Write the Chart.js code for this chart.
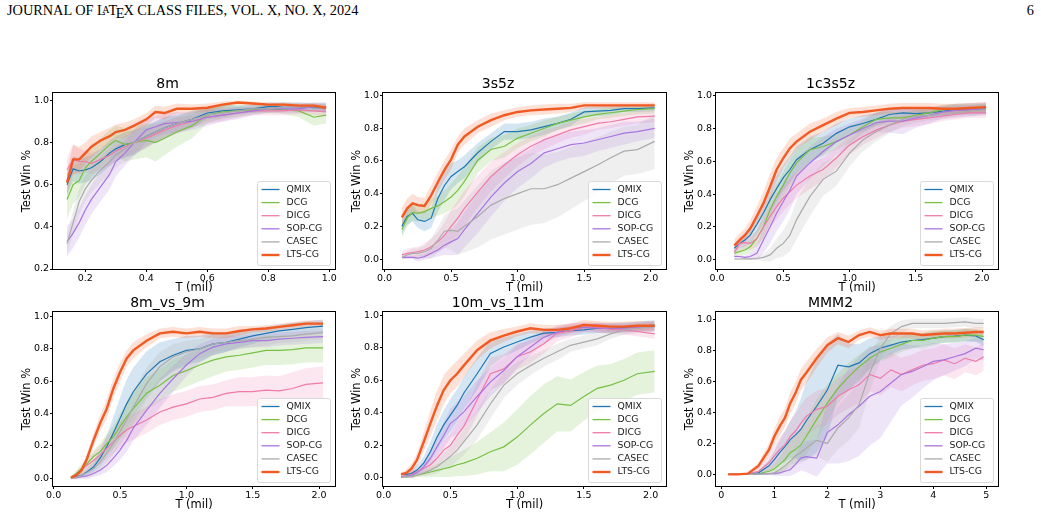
<!DOCTYPE html>
<html>
<head>
<meta charset="utf-8">
<script src="https://cdn.jsdelivr.net/npm/chart.js@4.4.1/dist/chart.umd.min.js"></script>
<style>
    body { margin: 0; background: #fff; }
    #page { position: relative; width: 1041px; height: 517px; overflow: hidden; background: #fff; }
    .hdr { position: absolute; top: 2px; font-family: "Liberation Serif", "Times New Roman", serif; font-size: 14.3px; color: #000; white-space: nowrap; }
    .hdr .a { font-size: 10px; position: relative; top: -2px; margin-left: -3.5px; margin-right: -1px; }
    .hdr .e { position: relative; top: 3px; margin-left: -1.5px; margin-right: -1px; }
    canvas { position: absolute; }
</style>
</head>
<body>
<div id="page">
    <div class="hdr" style="left:7px">JOURNAL OF L<span class="a">A</span>T<span class="e">E</span>X CLASS FILES, VOL. X, NO. X, 2024</div>
    <div class="hdr" style="right:7px">6</div>
</div>
<script>
const SERIES = ['QMIX', 'DCG', 'DICG', 'SOP-CG', 'CASEC', 'LTS-CG'];
const COLORS = ['#1f77b4', '#77c043', '#f07aa8', '#a974e0', '#ababab', '#f25a24'];

const X_TICKS_8M = [0.2, 0.4, 0.6, 0.8, 1.0];
const Y_TICKS_8M = [0.2, 0.4, 0.6, 0.8, 1.0];
const X_TICKS_2M = [0.0, 0.5, 1.0, 1.5, 2.0];
const X_TICKS_MMM2 = [0, 1, 2, 3, 4, 5];
const Y_TICKS = [0.0, 0.2, 0.4, 0.6, 0.8, 1.0];

// training steps (millions)
const X_8M = [0.14, 0.16, 0.18, 0.2, 0.22, 0.25, 0.28, 0.3, 0.33, 0.36, 0.4, 0.43, 0.46, 0.5, 0.55, 0.6, 0.65, 0.7, 0.75, 0.8, 0.85, 0.9, 0.95, 0.99];
const X_2M = [0.13, 0.17, 0.21, 0.25, 0.3, 0.35, 0.4, 0.45, 0.5, 0.55, 0.6, 0.7, 0.8, 0.9, 1.0, 1.1, 1.2, 1.3, 1.4, 1.5, 1.6, 1.7, 1.8, 1.9, 2.03];
const X_MMM2 = [0.13, 0.3, 0.5, 0.7, 0.9, 1.0, 1.1, 1.2, 1.3, 1.4, 1.5, 1.6, 1.8, 2.0, 2.2, 2.4, 2.6, 2.8, 3.0, 3.2, 3.4, 3.6, 3.8, 4.0, 4.2, 4.4, 4.6, 4.8, 4.95];

// 8m
const QMIX_8M = [0.6, 0.675, 0.665, 0.67, 0.68, 0.71, 0.75, 0.77, 0.79, 0.8, 0.83, 0.85, 0.87, 0.89, 0.91, 0.94, 0.95, 0.955, 0.96, 0.97, 0.97, 0.97, 0.965, 0.965];
const DCG_8M = [0.53, 0.6, 0.62, 0.68, 0.71, 0.75, 0.79, 0.81, 0.79, 0.8, 0.81, 0.8, 0.82, 0.85, 0.88, 0.93, 0.945, 0.95, 0.955, 0.96, 0.955, 0.95, 0.92, 0.93];
const DICG_8M = [0.67, 0.72, 0.71, 0.71, 0.7, 0.72, 0.74, 0.76, 0.78, 0.8, 0.82, 0.84, 0.86, 0.88, 0.9, 0.92, 0.93, 0.94, 0.95, 0.95, 0.95, 0.955, 0.95, 0.945];
const SOP_8M = [0.33, 0.37, 0.42, 0.48, 0.53, 0.59, 0.65, 0.71, 0.75, 0.8, 0.86, 0.875, 0.89, 0.895, 0.9, 0.92, 0.93, 0.94, 0.95, 0.96, 0.96, 0.96, 0.97, 0.97];
const CASEC_8M = [0.32, 0.42, 0.52, 0.58, 0.62, 0.67, 0.71, 0.74, 0.77, 0.8, 0.83, 0.85, 0.87, 0.89, 0.91, 0.93, 0.94, 0.95, 0.96, 0.96, 0.97, 0.97, 0.97, 0.97];
const LTS_8M = [0.61, 0.72, 0.72, 0.75, 0.78, 0.81, 0.83, 0.85, 0.86, 0.88, 0.91, 0.945, 0.94, 0.96, 0.96, 0.965, 0.98, 0.99, 0.985, 0.98, 0.98, 0.975, 0.975, 0.965];
const SD_QMIX_8M = [0.05, 0.06, 0.06, 0.06, 0.06, 0.06, 0.06, 0.06, 0.06, 0.06, 0.05, 0.05, 0.05, 0.04, 0.04, 0.03, 0.03, 0.02, 0.02, 0.02, 0.02, 0.02, 0.02, 0.02];
const SD_DCG_8M = [0.09, 0.09, 0.08, 0.08, 0.07, 0.07, 0.07, 0.07, 0.08, 0.08, 0.08, 0.09, 0.08, 0.07, 0.06, 0.04, 0.03, 0.03, 0.02, 0.02, 0.02, 0.03, 0.04, 0.04];
const SD_DICG_8M = [0.06, 0.07, 0.06, 0.05, 0.05, 0.05, 0.05, 0.05, 0.05, 0.05, 0.05, 0.04, 0.04, 0.04, 0.03, 0.03, 0.03, 0.02, 0.02, 0.02, 0.02, 0.02, 0.02, 0.02];
const SD_SOP_8M = [0.07, 0.07, 0.07, 0.07, 0.07, 0.07, 0.07, 0.07, 0.06, 0.06, 0.06, 0.05, 0.05, 0.05, 0.04, 0.04, 0.03, 0.03, 0.02, 0.02, 0.02, 0.02, 0.02, 0.02];
const SD_CASEC_8M = [0.05, 0.06, 0.06, 0.06, 0.06, 0.06, 0.06, 0.06, 0.06, 0.06, 0.05, 0.05, 0.05, 0.04, 0.04, 0.03, 0.03, 0.02, 0.02, 0.02, 0.02, 0.02, 0.02, 0.02];
const SD_LTS_8M = [0.06, 0.07, 0.06, 0.05, 0.05, 0.04, 0.04, 0.035, 0.035, 0.03, 0.03, 0.03, 0.03, 0.025, 0.02, 0.02, 0.015, 0.01, 0.01, 0.01, 0.01, 0.01, 0.01, 0.015];

// 3s5z
const QMIX_3S5Z = [0.2, 0.26, 0.28, 0.24, 0.23, 0.25, 0.37, 0.45, 0.505, 0.535, 0.565, 0.65, 0.72, 0.78, 0.78, 0.79, 0.81, 0.83, 0.855, 0.9, 0.905, 0.91, 0.92, 0.92, 0.925];
const DCG_3S5Z = [0.18, 0.25, 0.285, 0.28, 0.29, 0.31, 0.325, 0.35, 0.38, 0.42, 0.475, 0.605, 0.67, 0.69, 0.74, 0.77, 0.8, 0.83, 0.85, 0.87, 0.885, 0.895, 0.905, 0.915, 0.92];
const DICG_3S5Z = [0.025, 0.035, 0.04, 0.045, 0.055, 0.075, 0.105, 0.145, 0.2, 0.25, 0.31, 0.41, 0.505, 0.575, 0.64, 0.69, 0.73, 0.76, 0.79, 0.81, 0.83, 0.84, 0.855, 0.87, 0.875];
const SOP_3S5Z = [0.01, 0.01, 0.01, 0.005, 0.015, 0.035, 0.055, 0.085, 0.105, 0.125, 0.18, 0.28, 0.38, 0.465, 0.535, 0.585, 0.65, 0.675, 0.7, 0.71, 0.73, 0.75, 0.77, 0.78, 0.8];
const CASEC_3S5Z = [0.01, 0.025, 0.035, 0.035, 0.045, 0.065, 0.115, 0.17, 0.175, 0.17, 0.2, 0.26, 0.33, 0.37, 0.4, 0.43, 0.43, 0.455, 0.495, 0.535, 0.575, 0.62, 0.66, 0.67, 0.72];
const LTS_3S5Z = [0.255, 0.31, 0.34, 0.33, 0.325, 0.39, 0.47, 0.545, 0.61, 0.7, 0.75, 0.81, 0.85, 0.88, 0.9, 0.91, 0.915, 0.92, 0.925, 0.94, 0.94, 0.94, 0.94, 0.94, 0.94];
const SD_QMIX_3S5Z = [0.05, 0.05, 0.05, 0.05, 0.06, 0.06, 0.08, 0.09, 0.08, 0.07, 0.07, 0.06, 0.05, 0.05, 0.05, 0.05, 0.05, 0.04, 0.04, 0.03, 0.03, 0.03, 0.02, 0.02, 0.02];
const SD_DCG_3S5Z = [0.05, 0.05, 0.05, 0.05, 0.05, 0.06, 0.06, 0.07, 0.08, 0.09, 0.09, 0.08, 0.07, 0.07, 0.06, 0.05, 0.05, 0.04, 0.04, 0.04, 0.03, 0.03, 0.03, 0.03, 0.03];
const SD_DICG_3S5Z = [0.02, 0.03, 0.03, 0.03, 0.04, 0.05, 0.06, 0.08, 0.1, 0.11, 0.11, 0.1, 0.09, 0.08, 0.07, 0.06, 0.06, 0.05, 0.05, 0.05, 0.04, 0.04, 0.04, 0.04, 0.04];
const SD_SOP_3S5Z = [0.01, 0.01, 0.01, 0.02, 0.02, 0.03, 0.04, 0.06, 0.08, 0.1, 0.11, 0.12, 0.12, 0.11, 0.1, 0.09, 0.09, 0.08, 0.08, 0.08, 0.07, 0.07, 0.07, 0.06, 0.06];
const SD_CASEC_3S5Z = [0.01, 0.02, 0.03, 0.03, 0.04, 0.06, 0.08, 0.1, 0.12, 0.14, 0.16, 0.19, 0.21, 0.22, 0.22, 0.22, 0.21, 0.2, 0.19, 0.18, 0.17, 0.16, 0.15, 0.15, 0.17];
const SD_LTS_3S5Z = [0.06, 0.06, 0.06, 0.05, 0.05, 0.06, 0.06, 0.06, 0.06, 0.05, 0.05, 0.04, 0.04, 0.03, 0.03, 0.03, 0.03, 0.03, 0.025, 0.02, 0.02, 0.02, 0.02, 0.02, 0.02];

// 1c3s5z
const QMIX_1C3S5Z = [0.07, 0.1, 0.12, 0.15, 0.215, 0.285, 0.365, 0.435, 0.5, 0.55, 0.61, 0.67, 0.71, 0.77, 0.81, 0.83, 0.855, 0.885, 0.895, 0.89, 0.895, 0.905, 0.915, 0.915, 0.92];
const DCG_1C3S5Z = [0.04, 0.05, 0.06, 0.08, 0.13, 0.2, 0.305, 0.385, 0.455, 0.53, 0.59, 0.67, 0.69, 0.72, 0.76, 0.81, 0.855, 0.865, 0.865, 0.88, 0.895, 0.915, 0.92, 0.92, 0.925];
const DICG_1C3S5Z = [0.045, 0.1, 0.105, 0.1, 0.13, 0.2, 0.265, 0.325, 0.375, 0.415, 0.455, 0.51, 0.55, 0.62, 0.7, 0.75, 0.79, 0.82, 0.845, 0.855, 0.865, 0.875, 0.885, 0.895, 0.895];
const SOP_1C3S5Z = [0.02, 0.02, 0.015, 0.02, 0.04, 0.12, 0.2, 0.285, 0.355, 0.425, 0.51, 0.59, 0.66, 0.72, 0.76, 0.8, 0.835, 0.845, 0.845, 0.865, 0.88, 0.9, 0.91, 0.915, 0.92];
const CASEC_1C3S5Z = [0.005, 0.005, 0.006, 0.006, 0.008, 0.015, 0.03, 0.07, 0.1, 0.15, 0.245, 0.385, 0.49, 0.54, 0.65, 0.73, 0.78, 0.82, 0.855, 0.875, 0.88, 0.885, 0.895, 0.905, 0.915];
const LTS_1C3S5Z = [0.087, 0.12, 0.15, 0.19, 0.265, 0.345, 0.445, 0.55, 0.62, 0.68, 0.72, 0.78, 0.82, 0.86, 0.895, 0.9, 0.91, 0.92, 0.925, 0.925, 0.925, 0.92, 0.92, 0.925, 0.93];
const SD_QMIX_1C3S5Z = [0.03, 0.03, 0.04, 0.05, 0.06, 0.07, 0.08, 0.08, 0.08, 0.08, 0.08, 0.08, 0.07, 0.06, 0.05, 0.05, 0.04, 0.04, 0.03, 0.03, 0.03, 0.03, 0.03, 0.03, 0.03];
const SD_DCG_1C3S5Z = [0.02, 0.02, 0.03, 0.04, 0.05, 0.07, 0.08, 0.08, 0.08, 0.08, 0.08, 0.07, 0.06, 0.05, 0.05, 0.04, 0.04, 0.04, 0.03, 0.03, 0.03, 0.03, 0.03, 0.03, 0.03];
const SD_DICG_1C3S5Z = [0.03, 0.04, 0.04, 0.04, 0.05, 0.06, 0.07, 0.08, 0.08, 0.08, 0.08, 0.08, 0.07, 0.06, 0.06, 0.05, 0.05, 0.04, 0.04, 0.04, 0.04, 0.03, 0.03, 0.03, 0.03];
const SD_SOP_1C3S5Z = [0.01, 0.01, 0.01, 0.02, 0.04, 0.08, 0.1, 0.11, 0.12, 0.12, 0.11, 0.1, 0.09, 0.08, 0.07, 0.06, 0.06, 0.07, 0.08, 0.06, 0.05, 0.04, 0.04, 0.04, 0.04];
const SD_CASEC_1C3S5Z = [0.005, 0.005, 0.005, 0.005, 0.01, 0.02, 0.04, 0.06, 0.08, 0.1, 0.12, 0.12, 0.1, 0.09, 0.08, 0.07, 0.06, 0.05, 0.04, 0.04, 0.03, 0.03, 0.03, 0.03, 0.03];
const SD_LTS_1C3S5Z = [0.04, 0.04, 0.04, 0.05, 0.06, 0.07, 0.08, 0.07, 0.06, 0.06, 0.05, 0.05, 0.04, 0.04, 0.03, 0.03, 0.03, 0.03, 0.03, 0.03, 0.03, 0.03, 0.03, 0.03, 0.03];

// 8m_vs_9m
const QMIX_8V9 = [0.005, 0.01, 0.02, 0.04, 0.07, 0.125, 0.195, 0.28, 0.37, 0.46, 0.535, 0.645, 0.72, 0.76, 0.79, 0.8, 0.83, 0.84, 0.86, 0.88, 0.895, 0.91, 0.92, 0.93, 0.94];
const DCG_8V9 = [0.005, 0.03, 0.06, 0.09, 0.135, 0.165, 0.215, 0.255, 0.32, 0.38, 0.43, 0.525, 0.575, 0.635, 0.665, 0.7, 0.73, 0.75, 0.76, 0.775, 0.79, 0.79, 0.795, 0.805, 0.805];
const DICG_8V9 = [0.005, 0.02, 0.05, 0.08, 0.11, 0.145, 0.185, 0.225, 0.265, 0.3, 0.32, 0.36, 0.41, 0.44, 0.46, 0.49, 0.5, 0.525, 0.535, 0.535, 0.545, 0.54, 0.555, 0.58, 0.59];
const SOP_8V9 = [0.003, 0.005, 0.01, 0.015, 0.03, 0.05, 0.08, 0.125, 0.175, 0.235, 0.31, 0.42, 0.525, 0.615, 0.7, 0.77, 0.81, 0.83, 0.84, 0.85, 0.85, 0.86, 0.865, 0.87, 0.875];
const CASEC_8V9 = [0.003, 0.005, 0.02, 0.035, 0.06, 0.1, 0.155, 0.215, 0.29, 0.36, 0.44, 0.585, 0.69, 0.75, 0.78, 0.8, 0.83, 0.84, 0.85, 0.86, 0.87, 0.875, 0.88, 0.89, 0.9];
const LTS_8V9 = [0.005, 0.02, 0.05, 0.12, 0.235, 0.34, 0.43, 0.555, 0.655, 0.74, 0.79, 0.85, 0.895, 0.905, 0.895, 0.905, 0.895, 0.895, 0.91, 0.92, 0.925, 0.935, 0.945, 0.955, 0.955];
const SD_QMIX_8V9 = [0.005, 0.01, 0.01, 0.02, 0.03, 0.05, 0.07, 0.1, 0.13, 0.15, 0.15, 0.14, 0.12, 0.1, 0.09, 0.08, 0.07, 0.06, 0.05, 0.05, 0.04, 0.04, 0.04, 0.04, 0.04];
const SD_DCG_8V9 = [0.005, 0.02, 0.03, 0.03, 0.04, 0.05, 0.06, 0.07, 0.08, 0.09, 0.1, 0.1, 0.1, 0.1, 0.1, 0.1, 0.1, 0.09, 0.09, 0.09, 0.09, 0.09, 0.09, 0.09, 0.09];
const SD_DICG_8V9 = [0.005, 0.02, 0.03, 0.04, 0.05, 0.06, 0.07, 0.07, 0.08, 0.08, 0.08, 0.08, 0.08, 0.08, 0.08, 0.08, 0.08, 0.08, 0.09, 0.09, 0.09, 0.09, 0.1, 0.1, 0.1];
const SD_SOP_8V9 = [0.005, 0.01, 0.01, 0.02, 0.02, 0.03, 0.04, 0.05, 0.06, 0.07, 0.08, 0.09, 0.09, 0.08, 0.07, 0.06, 0.05, 0.05, 0.04, 0.04, 0.04, 0.04, 0.04, 0.04, 0.04];
const SD_CASEC_8V9 = [0.005, 0.01, 0.02, 0.03, 0.04, 0.05, 0.06, 0.07, 0.08, 0.09, 0.1, 0.1, 0.09, 0.08, 0.07, 0.06, 0.06, 0.05, 0.05, 0.05, 0.05, 0.04, 0.04, 0.04, 0.04];
const SD_LTS_8V9 = [0.01, 0.01, 0.02, 0.03, 0.04, 0.05, 0.06, 0.06, 0.06, 0.05, 0.05, 0.04, 0.03, 0.03, 0.03, 0.03, 0.03, 0.03, 0.03, 0.02, 0.02, 0.02, 0.02, 0.02, 0.02];

// 10m_vs_11m
const QMIX_10V11 = [0.02, 0.02, 0.027, 0.047, 0.09, 0.16, 0.25, 0.325, 0.385, 0.445, 0.52, 0.64, 0.765, 0.805, 0.835, 0.865, 0.89, 0.895, 0.905, 0.91, 0.92, 0.92, 0.925, 0.93, 0.94];
const DCG_10V11 = [0.005, 0.005, 0.01, 0.015, 0.025, 0.035, 0.045, 0.055, 0.065, 0.08, 0.09, 0.12, 0.16, 0.19, 0.25, 0.325, 0.395, 0.455, 0.445, 0.5, 0.55, 0.57, 0.6, 0.64, 0.655];
const DICG_10V11 = [0.005, 0.01, 0.02, 0.037, 0.057, 0.08, 0.12, 0.17, 0.2, 0.26, 0.315, 0.48, 0.64, 0.67, 0.745, 0.775, 0.825, 0.89, 0.905, 0.925, 0.925, 0.915, 0.91, 0.9, 0.885];
const SOP_10V11 = [0.005, 0.01, 0.015, 0.03, 0.067, 0.12, 0.19, 0.26, 0.335, 0.365, 0.405, 0.5, 0.59, 0.66, 0.745, 0.805, 0.865, 0.895, 0.92, 0.925, 0.92, 0.92, 0.92, 0.925, 0.93];
const CASEC_10V11 = [0.005, 0.005, 0.01, 0.015, 0.03, 0.047, 0.067, 0.1, 0.13, 0.17, 0.22, 0.325, 0.455, 0.57, 0.64, 0.69, 0.735, 0.775, 0.815, 0.835, 0.855, 0.885, 0.91, 0.92, 0.93];
const LTS_10V11 = [0.02, 0.03, 0.057, 0.11, 0.22, 0.335, 0.445, 0.54, 0.6, 0.64, 0.69, 0.785, 0.845, 0.875, 0.9, 0.92, 0.91, 0.91, 0.92, 0.94, 0.935, 0.93, 0.93, 0.935, 0.935];
const SD_QMIX_10V11 = [0.01, 0.01, 0.02, 0.03, 0.04, 0.06, 0.08, 0.09, 0.1, 0.1, 0.1, 0.1, 0.08, 0.06, 0.05, 0.04, 0.03, 0.03, 0.03, 0.03, 0.03, 0.03, 0.03, 0.03, 0.03];
const SD_DCG_10V11 = [0.005, 0.005, 0.01, 0.01, 0.02, 0.03, 0.04, 0.05, 0.06, 0.07, 0.08, 0.1, 0.12, 0.15, 0.17, 0.18, 0.18, 0.17, 0.16, 0.15, 0.14, 0.13, 0.13, 0.13, 0.13];
const SD_DICG_10V11 = [0.005, 0.01, 0.02, 0.02, 0.03, 0.04, 0.05, 0.06, 0.07, 0.08, 0.09, 0.1, 0.1, 0.09, 0.08, 0.07, 0.06, 0.05, 0.04, 0.03, 0.03, 0.03, 0.03, 0.03, 0.03];
const SD_SOP_10V11 = [0.005, 0.01, 0.02, 0.02, 0.03, 0.05, 0.06, 0.08, 0.09, 0.1, 0.1, 0.1, 0.09, 0.08, 0.07, 0.05, 0.04, 0.03, 0.03, 0.03, 0.03, 0.03, 0.03, 0.03, 0.03];
const SD_CASEC_10V11 = [0.005, 0.005, 0.01, 0.01, 0.02, 0.03, 0.04, 0.05, 0.06, 0.07, 0.08, 0.09, 0.09, 0.08, 0.07, 0.06, 0.05, 0.05, 0.04, 0.04, 0.04, 0.03, 0.03, 0.03, 0.03];
const SD_LTS_10V11 = [0.01, 0.02, 0.03, 0.04, 0.06, 0.08, 0.09, 0.09, 0.08, 0.08, 0.07, 0.06, 0.05, 0.04, 0.03, 0.03, 0.03, 0.03, 0.03, 0.03, 0.03, 0.03, 0.03, 0.03, 0.03];

// MMM2
const QMIX_MMM2 = [0, 0, 0.004, 0.01, 0.055, 0.095, 0.14, 0.18, 0.225, 0.255, 0.29, 0.345, 0.44, 0.545, 0.705, 0.695, 0.72, 0.78, 0.815, 0.835, 0.855, 0.865, 0.87, 0.88, 0.89, 0.893, 0.9, 0.895, 0.87];
const DCG_MMM2 = [0, 0, 0, 0.004, 0.02, 0.035, 0.065, 0.095, 0.14, 0.16, 0.19, 0.245, 0.355, 0.46, 0.555, 0.63, 0.695, 0.75, 0.79, 0.815, 0.84, 0.865, 0.865, 0.88, 0.89, 0.89, 0.9, 0.9, 0.89];
const DICG_MMM2 = [0, 0, 0.004, 0.02, 0.075, 0.12, 0.16, 0.19, 0.245, 0.28, 0.33, 0.375, 0.42, 0.44, 0.505, 0.545, 0.58, 0.645, 0.62, 0.675, 0.645, 0.675, 0.705, 0.715, 0.74, 0.715, 0.75, 0.73, 0.76];
const SOP_MMM2 = [0, 0, 0, 0.002, 0.004, 0.005, 0.01, 0.02, 0.03, 0.065, 0.105, 0.115, 0.105, 0.27, 0.32, 0.385, 0.44, 0.505, 0.535, 0.59, 0.645, 0.665, 0.695, 0.73, 0.74, 0.76, 0.78, 0.815, 0.805];
const CASEC_MMM2 = [0, 0, 0, 0, 0.004, 0.01, 0.03, 0.055, 0.085, 0.12, 0.14, 0.17, 0.22, 0.2, 0.3, 0.365, 0.45, 0.655, 0.815, 0.91, 0.955, 0.975, 0.975, 0.975, 0.975, 0.98, 0.985, 0.975, 0.975];
const LTS_MMM2 = [0, 0, 0.005, 0.055, 0.16, 0.245, 0.31, 0.365, 0.46, 0.525, 0.61, 0.655, 0.75, 0.835, 0.88, 0.855, 0.9, 0.92, 0.9, 0.91, 0.91, 0.91, 0.9, 0.905, 0.91, 0.91, 0.915, 0.92, 0.92];
const SD_QMIX_MMM2 = [0, 0, 0.005, 0.01, 0.04, 0.06, 0.08, 0.1, 0.12, 0.15, 0.2, 0.25, 0.3, 0.3, 0.2, 0.15, 0.12, 0.1, 0.08, 0.06, 0.05, 0.05, 0.04, 0.04, 0.04, 0.04, 0.04, 0.04, 0.04];
const SD_DCG_MMM2 = [0, 0, 0, 0.005, 0.02, 0.03, 0.05, 0.07, 0.08, 0.09, 0.1, 0.12, 0.13, 0.12, 0.1, 0.09, 0.08, 0.07, 0.06, 0.06, 0.05, 0.05, 0.05, 0.05, 0.04, 0.04, 0.04, 0.04, 0.04];
const SD_DICG_MMM2 = [0, 0, 0.005, 0.02, 0.05, 0.07, 0.08, 0.09, 0.1, 0.11, 0.12, 0.12, 0.12, 0.12, 0.12, 0.12, 0.12, 0.11, 0.11, 0.11, 0.11, 0.1, 0.1, 0.1, 0.1, 0.1, 0.09, 0.09, 0.09];
const SD_SOP_MMM2 = [0, 0, 0, 0.005, 0.005, 0.01, 0.02, 0.03, 0.04, 0.06, 0.08, 0.1, 0.12, 0.2, 0.25, 0.3, 0.32, 0.32, 0.3, 0.25, 0.2, 0.17, 0.14, 0.12, 0.1, 0.09, 0.08, 0.07, 0.07];
const SD_CASEC_MMM2 = [0, 0, 0, 0, 0.01, 0.02, 0.03, 0.04, 0.05, 0.06, 0.07, 0.08, 0.1, 0.12, 0.14, 0.15, 0.15, 0.12, 0.08, 0.05, 0.04, 0.03, 0.03, 0.03, 0.03, 0.03, 0.03, 0.03, 0.03];
const SD_LTS_MMM2 = [0, 0, 0.005, 0.02, 0.04, 0.05, 0.06, 0.06, 0.07, 0.07, 0.07, 0.07, 0.06, 0.05, 0.04, 0.04, 0.03, 0.03, 0.03, 0.03, 0.03, 0.03, 0.03, 0.03, 0.03, 0.03, 0.03, 0.03, 0.03];

const FONT = '"DejaVu Sans", sans-serif';
const Y_AXIS_W = 53, TITLE_H = 26, X_AXIS_H = 28, PAD_R = 10;

// draws the full axes frame and a matplotlib-style legend in the lower right
const frameLegend = {
    id: 'frameLegend',
    afterDraw(chart) {
        const { ctx, chartArea: a } = chart;
        ctx.save();
        ctx.strokeStyle = '#000';
        ctx.lineWidth = 1;
        ctx.strokeRect(Math.round(a.left) - 0.5, Math.round(a.top) - 0.5, Math.round(a.right - a.left) + 1, Math.round(a.bottom - a.top) + 1);

        const bw = 73, bh = 84;
        const bx = Math.round(a.right - 5 - bw) + 0.5, by = Math.round(a.bottom - 4 - bh) + 0.5;
        ctx.beginPath();
        ctx.roundRect(bx, by, bw, bh, 2);
        ctx.fillStyle = 'rgba(255,255,255,0.8)';
        ctx.fill();
        ctx.strokeStyle = '#d9d9d9';
        ctx.stroke();
        ctx.font = '9.3px ' + FONT;
        ctx.textBaseline = 'middle';
        SERIES.forEach((name, i) => {
            const y = by + 8 + i * 13.1;
            ctx.strokeStyle = COLORS[i];
            ctx.lineWidth = i === 5 ? 2.4 : 1.3;
            ctx.beginPath();
            ctx.moveTo(bx + 4, y);
            ctx.lineTo(bx + 22, y);
            ctx.stroke();
            ctx.fillStyle = '#1a1a1a';
            ctx.fillText(name, bx + 29, y);
        });
        ctx.restore();
    },
};

function makePanel(p) {
    const [L, T, R, B] = p.box;
    const w = Y_AXIS_W + (R - L) + PAD_R, h = TITLE_H + (B - T) + X_AXIS_H;
    const cv = document.createElement('canvas');
    cv.width = w; cv.height = h;
    cv.style.left = (L - Y_AXIS_W) + 'px';
    cv.style.top = (T - TITLE_H) + 'px';
    cv.style.width = w + 'px'; cv.style.height = h + 'px';
    document.getElementById('page').appendChild(cv);

    const datasets = [];
    SERIES.forEach((name, i) => {
        const mean = p.means[i], sd = p.sds[i], col = COLORS[i];
        const band = { borderWidth: 0, pointRadius: 0, backgroundColor: col + '30', order: 30 - i };
        datasets.push({ ...band, label: name + ' upper', data: p.x.map((x, k) => ({ x, y: mean[k] + sd[k] })), fill: false });
        datasets.push({ ...band, label: name + ' lower', data: p.x.map((x, k) => ({ x, y: mean[k] - sd[k] })), fill: '-1' });
        datasets.push({
            label: name, data: p.x.map((x, k) => ({ x, y: mean[k] })),
            borderColor: col, borderWidth: i === 5 ? 2.4 : 1.2, pointRadius: 0, fill: false, order: 10 - i,
        });
    });

    const tickFont = { family: FONT, size: 9.5 };
    const labelFont = { family: FONT, size: 11.5 };
    new Chart(cv, {
        type: 'line',
        data: { datasets },
        plugins: [frameLegend],
        options: {
            responsive: false, animation: false,
            layout: { padding: { right: PAD_R } },
            plugins: {
                legend: { display: false }, tooltip: { enabled: false },
                title: {
                    display: true, text: p.title, color: '#000',
                    font: { family: FONT, size: 14, weight: 'normal', lineHeight: '17px' },
                    padding: { top: 9, bottom: 0 },
                },
            },
            scales: {
                x: {
                    type: 'linear', min: p.xr[0], max: p.xr[1],
                    afterFit: (s) => { s.height = X_AXIS_H; },
                    afterBuildTicks: (s) => { s.ticks = p.xt.map((v) => ({ value: v })); },
                    ticks: { color: '#000', font: tickFont, padding: 1, maxRotation: 0, autoSkip: false, callback: (v) => v.toFixed(p.dec) },
                    grid: { drawOnChartArea: false, tickLength: 3, color: '#000' },
                    border: { display: false },
                    title: { display: true, text: 'T (mil)', color: '#000', font: labelFont, padding: { top: 0, bottom: 2 } },
                },
                y: {
                    type: 'linear', min: p.yr[0], max: p.yr[1],
                    afterFit: (s) => { s.width = Y_AXIS_W; },
                    afterBuildTicks: (s) => { s.ticks = p.yt.map((v) => ({ value: v })); },
                    ticks: { color: '#000', font: tickFont, padding: 1, autoSkip: false, callback: (v) => v.toFixed(1) },
                    grid: { drawOnChartArea: false, tickLength: 3, color: '#000' },
                    border: { display: false },
                    title: { display: true, text: 'Test Win %', color: '#000', font: labelFont, padding: { top: 20, bottom: 0 } },
                },
            },
        },
    });
}

makePanel({
    title: '8m', box: [53, 93, 335, 269], x: X_8M, xr: [0.094, 1.019], yr: [0.2, 1.035], xt: X_TICKS_8M, yt: Y_TICKS_8M, dec: 1,
    means: [QMIX_8M, DCG_8M, DICG_8M, SOP_8M, CASEC_8M, LTS_8M],
    sds: [SD_QMIX_8M, SD_DCG_8M, SD_DICG_8M, SD_SOP_8M, SD_CASEC_8M, SD_LTS_8M],
});
makePanel({
    title: '3s5z', box: [383, 93, 666, 269], x: X_2M, xr: [-0.012, 2.115], yr: [-0.061, 1.016], xt: X_TICKS_2M, yt: Y_TICKS, dec: 1,
    means: [QMIX_3S5Z, DCG_3S5Z, DICG_3S5Z, SOP_3S5Z, CASEC_3S5Z, LTS_3S5Z],
    sds: [SD_QMIX_3S5Z, SD_DCG_3S5Z, SD_DICG_3S5Z, SD_SOP_3S5Z, SD_CASEC_3S5Z, SD_LTS_3S5Z],
});
makePanel({
    title: '1c3s5z', box: [716, 93, 998, 269], x: X_2M, xr: [-0.008, 2.12], yr: [-0.056, 1.016], xt: X_TICKS_2M, yt: Y_TICKS, dec: 1,
    means: [QMIX_1C3S5Z, DCG_1C3S5Z, DICG_1C3S5Z, SOP_1C3S5Z, CASEC_1C3S5Z, LTS_1C3S5Z],
    sds: [SD_QMIX_1C3S5Z, SD_DCG_1C3S5Z, SD_DICG_1C3S5Z, SD_SOP_1C3S5Z, SD_CASEC_1C3S5Z, SD_LTS_1C3S5Z],
});
makePanel({
    title: '8m_vs_9m', box: [53, 312, 335, 486], x: X_2M, xr: [-0.005, 2.12], yr: [-0.047, 1.027], xt: X_TICKS_2M, yt: Y_TICKS, dec: 1,
    means: [QMIX_8V9, DCG_8V9, DICG_8V9, SOP_8V9, CASEC_8V9, LTS_8V9],
    sds: [SD_QMIX_8V9, SD_DCG_8V9, SD_DICG_8V9, SD_SOP_8V9, SD_CASEC_8V9, SD_LTS_8V9],
});
makePanel({
    title: '10m_vs_11m', box: [383, 312, 666, 486], x: X_2M, xr: [-0.005, 2.115], yr: [-0.051, 1.02], xt: X_TICKS_2M, yt: Y_TICKS, dec: 1,
    means: [QMIX_10V11, DCG_10V11, DICG_10V11, SOP_10V11, CASEC_10V11, LTS_10V11],
    sds: [SD_QMIX_10V11, SD_DCG_10V11, SD_DICG_10V11, SD_SOP_10V11, SD_CASEC_10V11, SD_LTS_10V11],
});
makePanel({
    title: 'MMM2', box: [716, 312, 998, 486], x: X_MMM2, xr: [-0.1, 5.22], yr: [-0.075, 1.049], xt: X_TICKS_MMM2, yt: Y_TICKS, dec: 0,
    means: [QMIX_MMM2, DCG_MMM2, DICG_MMM2, SOP_MMM2, CASEC_MMM2, LTS_MMM2],
    sds: [SD_QMIX_MMM2, SD_DCG_MMM2, SD_DICG_MMM2, SD_SOP_MMM2, SD_CASEC_MMM2, SD_LTS_MMM2],
});
</script>
</body>
</html>
